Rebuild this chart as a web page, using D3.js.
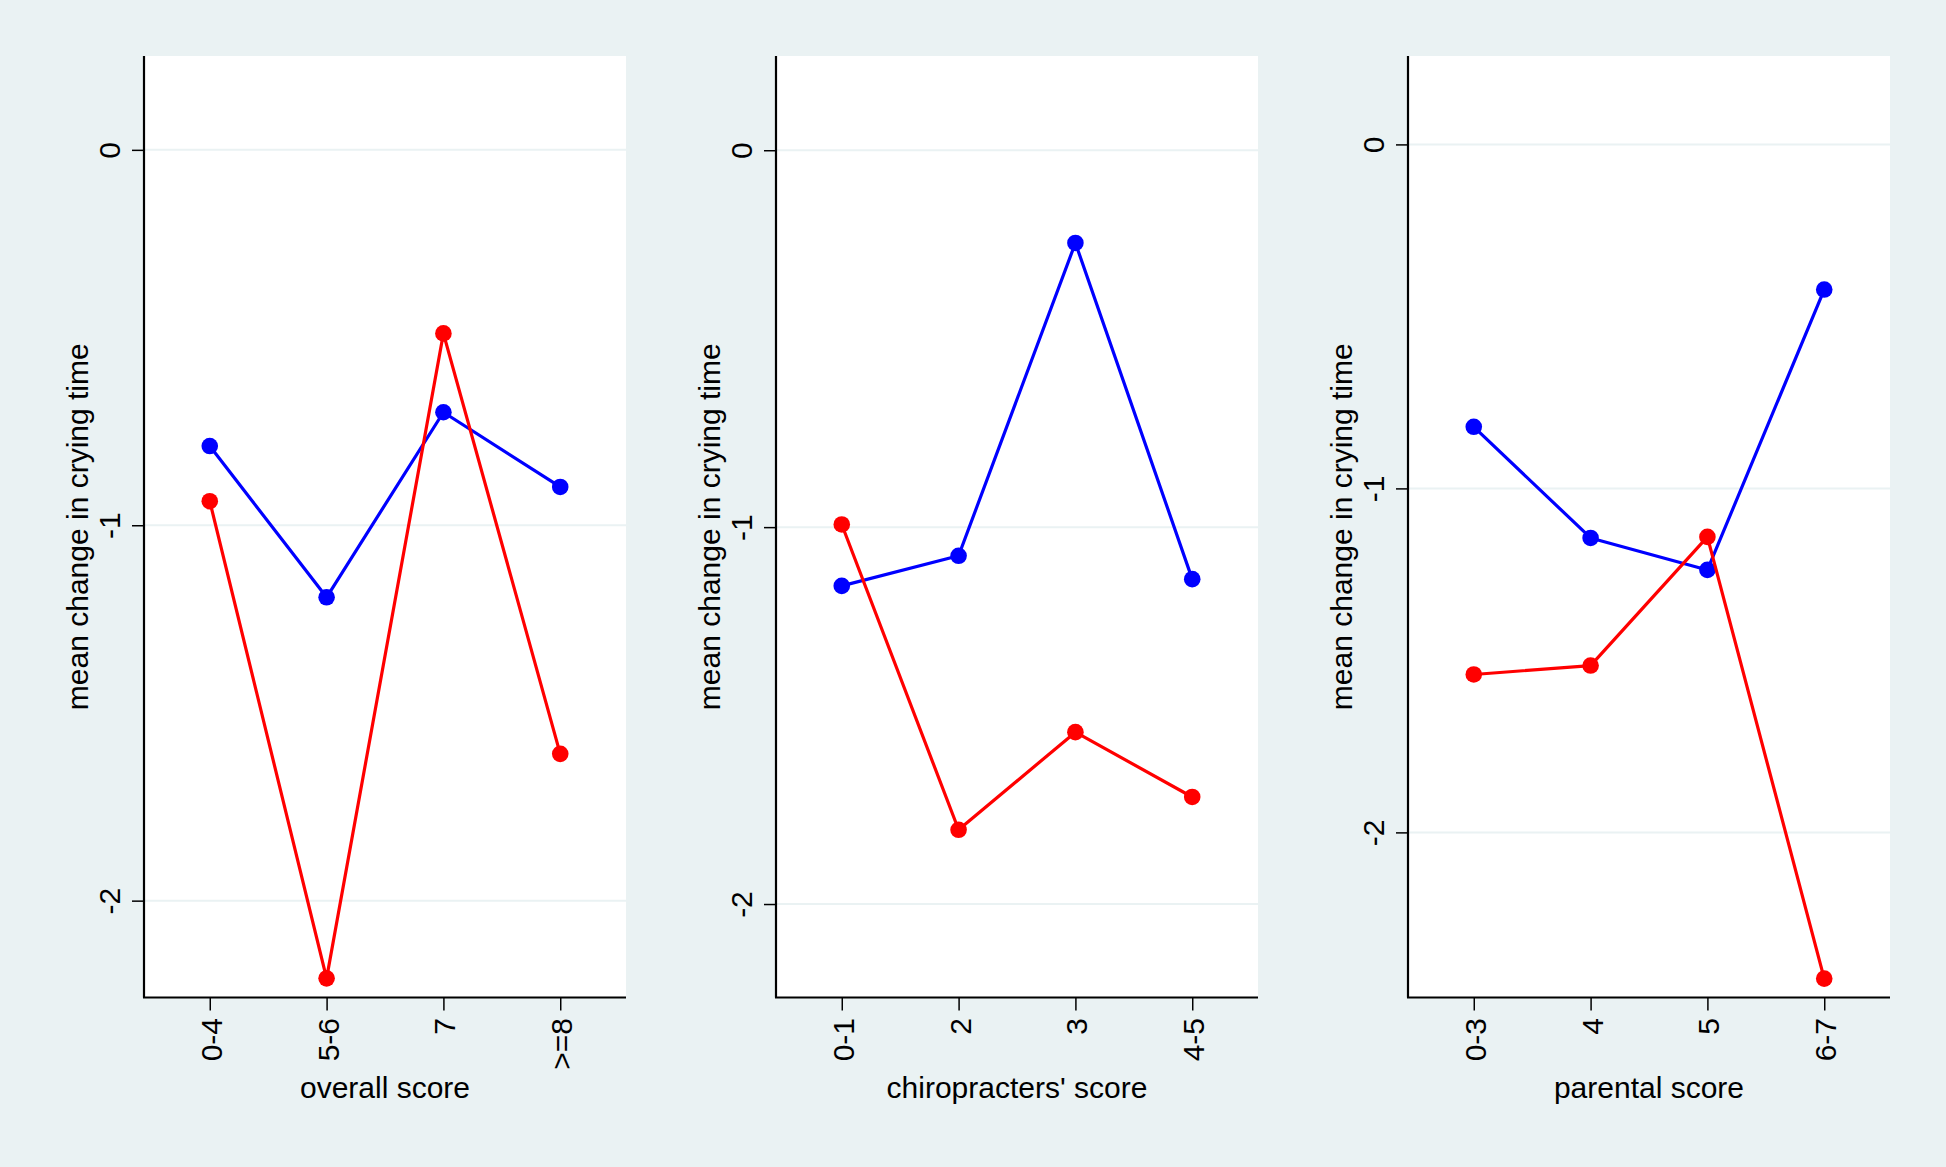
<!DOCTYPE html>
<html>
<head>
<meta charset="utf-8">
<script src="https://cdn.jsdelivr.net/npm/d3@7"></script>
<style>
  html, body { margin: 0; padding: 0; background: #eaf2f3; }
  svg { display: block; }
  text { font-family: "Liberation Sans", Arial, Helvetica, sans-serif; fill: #000; }
</style>
</head>
<body>
<svg id="chart" width="1946" height="1167"></svg>
<script>
// ---- data ----
const overallCats = ["0-4", "5-6", "7", ">=8"];
const overallBlue = [-0.789, -1.192, -0.699, -0.898];
const overallRed  = [-0.936, -2.207, -0.489, -1.609];

const chiroCats = ["0-1", "2", "3", "4-5"];
const chiroBlue = [-1.156, -1.076, -0.246, -1.138];
const chiroRed  = [-0.993, -1.803, -1.544, -1.716];

const parentCats = ["0-3", "4", "5", "6-7"];
const parentBlue = [-0.821, -1.144, -1.237, -0.422];
const parentRed  = [-1.541, -1.515, -1.141, -2.425];

const yTickValues = [0, -1, -2];
const xTitles = ["overall score", "chiropracters' score", "parental score"];
const yTitle = "mean change in crying time";
const yRanges = [[-2.258, 0.25], [-2.248, 0.25], [-2.480, 0.257]];

const panels = [
  { cats: overallCats, blue: overallBlue, red: overallRed, xTitle: xTitles[0], yDomain: yRanges[0] },
  { cats: chiroCats,   blue: chiroBlue,   red: chiroRed,   xTitle: xTitles[1], yDomain: yRanges[1] },
  { cats: parentCats,  blue: parentBlue,  red: parentRed,  xTitle: xTitles[2], yDomain: yRanges[2] }
];

// ---- layout ----
const svg = d3.select("#chart");
svg.append("rect").attr("width", 1946).attr("height", 1167).attr("fill", "#eaf2f3");

const lefts = [144, 776, 1408];
const plotW = 482;
const plotTop = 56, plotBottom = 997.5;
const BLUE = "#0000ff", RED = "#ff0000";
const FS = 30;

panels.forEach((p, i) => {
  const x0 = lefts[i];
  const x = d3.scalePoint().domain(p.cats).range([x0, x0 + plotW]).padding(0.563);
  const y = d3.scaleLinear().domain(p.yDomain).range([plotBottom, plotTop]);

  const g = svg.append("g");

  // plot region
  g.append("rect").attr("x", x0).attr("y", plotTop).attr("width", plotW).attr("height", plotBottom - plotTop).attr("fill", "#fff");

  // grid lines
  g.selectAll(".grid").data(yTickValues).enter().append("line")
    .attr("x1", x0).attr("x2", x0 + plotW)
    .attr("y1", d => y(d)).attr("y2", d => y(d))
    .attr("stroke", "#eaf2f3").attr("stroke-width", 2);

  // y axis
  const ya = g.append("g").attr("transform", `translate(${x0},0)`)
    .call(d3.axisLeft(y).tickValues(yTickValues).tickSize(12).tickSizeOuter(0).tickFormat(d => String(d)));
  ya.select(".domain").attr("stroke", "#000").attr("stroke-width", 2.2)
    .attr("d", `M0,${plotTop}V${plotBottom}`);
  ya.selectAll(".tick line").attr("stroke", "#000").attr("stroke-width", 1.5);
  ya.selectAll(".tick text")
    .attr("font-size", FS).attr("font-family", null)
    .attr("x", null).attr("dy", null)
    .attr("text-anchor", "middle")
    .attr("transform", "translate(-24,0) rotate(-90)");

  // x axis
  const xa = g.append("g").attr("transform", `translate(0,${plotBottom})`)
    .call(d3.axisBottom(x).tickSize(13).tickSizeOuter(0));
  xa.select(".domain").attr("stroke", "#000").attr("stroke-width", 2.2)
    .attr("d", `M${x0 - 1},0H${x0 + plotW}`);
  xa.selectAll(".tick line").attr("stroke", "#000").attr("stroke-width", 1.5);
  xa.selectAll(".tick text")
    .attr("font-size", FS).attr("font-family", null)
    .attr("y", null).attr("dy", null)
    .attr("text-anchor", "end")
    .attr("transform", "translate(11.5,20.5) rotate(-90)");

  // titles
  g.append("text")
    .attr("x", x0 + plotW / 2).attr("y", 1098)
    .attr("text-anchor", "middle").attr("font-size", FS)
    .text(p.xTitle);
  g.append("text")
    .attr("transform", `translate(${x0 - 56},${(plotTop + plotBottom) / 2}) rotate(-90)`)
    .attr("text-anchor", "middle").attr("font-size", FS)
    .text(yTitle);

  // series
  const line = d3.line().x((d, j) => x(p.cats[j])).y(d => y(d));
  [[p.blue, BLUE], [p.red, RED]].forEach(([vals, col]) => {
    g.append("path").datum(vals).attr("d", line)
      .attr("fill", "none").attr("stroke", col).attr("stroke-width", 3.2)
      .attr("stroke-linejoin", "round");
    g.selectAll(null).data(vals).enter().append("circle")
      .attr("cx", (d, j) => x(p.cats[j])).attr("cy", d => y(d))
      .attr("r", 8.3).attr("fill", col);
  });
});
</script>
</body>
</html>
